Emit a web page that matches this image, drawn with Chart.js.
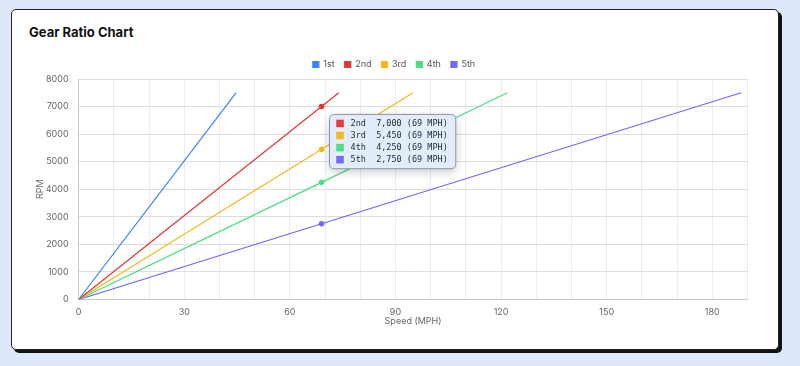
<!DOCTYPE html>
<html>
<head>
<meta charset="utf-8">
<script src="https://cdn.jsdelivr.net/npm/chart.js@4.4.1/dist/chart.umd.min.js"></script>
<style>
  html, body { margin: 0; padding: 0; }
  body { width: 800px; height: 366px; background: #dde8fb; font-family: Inter, "Noto Sans", sans-serif; position: relative; overflow: hidden; }
  .card { position: absolute; left: 11px; top: 9px; width: 768px; height: 341px; box-sizing: border-box;
          background: #fff; border: 1.5px solid #222; border-radius: 5px; box-shadow: 3px 3px 0 #111; }
  h1 { position: absolute; left: 29px; top: 24px; margin: 0; font-size: 13px; font-weight: 700; color: #111; }
  #wrap { position: absolute; left: 35px; top: 50px; width: 721px; height: 276px; }
</style>
</head>
<body>
<div class="card"></div>
<h1>Gear Ratio Chart</h1>
<div id="wrap"><canvas id="chart"></canvas></div>
<script>
// values
const gears = ["1st", "2nd", "3rd", "4th", "5th"];
const gearColors = ["#3b82f6", "#e53535", "#f5b81c", "#4ade80", "#6b6bf8"];
const redlineRpm = 7500;
const redlineMph = [44.7, 73.9, 95.0, 121.8, 188.2];
const sampleMph = 69;
const rpmAtSample = [null, 7000, 5450, 4250, 2750];
const xTickLabels = [0, 30, 60, 90, 120, 150, 180];

const datasets = gears.map((g, i) => {
  const pts = [{ x: 0, y: 0 }];
  if (rpmAtSample[i] !== null) pts.push({ x: sampleMph, y: rpmAtSample[i] });
  pts.push({ x: redlineMph[i], y: redlineRpm });
  return {
    label: g,
    data: pts,
    borderColor: gearColors[i],
    backgroundColor: gearColors[i],
    pointHoverBackgroundColor: gearColors[i],
    pointHoverBorderColor: gearColors[i],
    borderWidth: 1.2,
    pointRadius: 0,
    pointHoverRadius: 2.8,
    pointHoverBorderWidth: 0,
    tension: 0
  };
});

Chart.Tooltip.positioners.fixedAt = function () {
  const c = this.chart;
  return { x: c.scales.x.getPixelForValue(sampleMph), y: c.scales.y.getPixelForValue(5730) };
};

const tooltipShadow = {
  id: "tooltipShadow",
  beforeTooltipDraw(chart, args) {
    const t = args.tooltip;
    if (!t.opacity) return;
    const ctx = chart.ctx;
    ctx.save();
    ctx.shadowColor = "rgba(0,0,0,0.22)";
    ctx.shadowBlur = 10;
    ctx.shadowOffsetY = 3;
    ctx.fillStyle = "#e3ecfa";
    ctx.beginPath();
    ctx.roundRect(t.x, t.y, t.width, t.height, 5);
    ctx.fill();
    ctx.restore();
  }
};

const tickFont = { family: "Inter", size: 9, lineHeight: 1 };

const chart = new Chart(document.getElementById("chart"), {
  type: "line",
  data: { datasets },
  plugins: [tooltipShadow],
  options: {
    responsive: true,
    maintainAspectRatio: false,
    animation: false,
    layout: { padding: { right: 3 } },
    interaction: { mode: "x", intersect: false },
    plugins: {
      legend: {
        labels: { boxWidth: 6, boxHeight: 6, padding: 10, color: "#555", font: { family: "Inter", size: 9 } }
      },
      tooltip: {
        position: "fixedAt",
        xAlign: "left",
        yAlign: "center",
        caretSize: 0,
        caretPadding: 8,
        backgroundColor: "#e3ecfa",
        borderColor: "#8a96a8",
        borderWidth: 1,
        cornerRadius: 5,
        padding: { x: 8, y: 3 },
        bodyColor: "#1f2937",
        bodyFont: { family: "DejaVu Sans Mono", size: 8.5, lineHeight: 1.42 },
        bodySpacing: 0,
        multiKeyBackground: "rgba(0,0,0,0)",
        boxWidth: 5,
        boxHeight: 5,
        boxPadding: 6,
        callbacks: {
          title: () => "",
          label: (item) => item.dataset.label.padEnd(5) + item.parsed.y.toLocaleString("en-US") + " (" + item.parsed.x + " MPH)",
          labelColor: (item) => ({ borderColor: item.dataset.borderColor, backgroundColor: item.dataset.borderColor, borderWidth: 2.5, borderRadius: 0 })
        }
      }
    },
    scales: {
      x: {
        type: "linear",
        min: 0,
        max: 190,
        border: { color: "#c8c8c8" },
        grid: { color: "#ececec", drawTicks: false },
        ticks: {
          stepSize: 10,
          autoSkip: false,
          maxRotation: 0,
          padding: 8.5,
          color: "#666",
          font: tickFont,
          callback: (v) => xTickLabels.includes(v) ? String(v) : ""
        },
        title: { display: true, text: "Speed (MPH)", color: "#666", font: tickFont, padding: { top: -8.5, bottom: 0 } }
      },
      y: {
        min: 0,
        max: 8000,
        border: { color: "#c8c8c8" },
        grid: { color: "#dedede", drawTicks: false },
        ticks: { stepSize: 1000, padding: 10, color: "#666", font: { family: "Inter", size: 9 }, callback: (v) => String(v) },
        title: { display: true, text: "RPM", color: "#666", font: { family: "Inter", size: 9 }, padding: { top: 0, bottom: -10 } }
      }
    }
  }
});

const active = [];
rpmAtSample.forEach((v, i) => { if (v !== null) active.push({ datasetIndex: i, index: 1 }); });
chart.setActiveElements(active);
chart.tooltip.setActiveElements(active, { x: chart.scales.x.getPixelForValue(sampleMph), y: 140 });
chart.update();
</script>
</body>
</html>
